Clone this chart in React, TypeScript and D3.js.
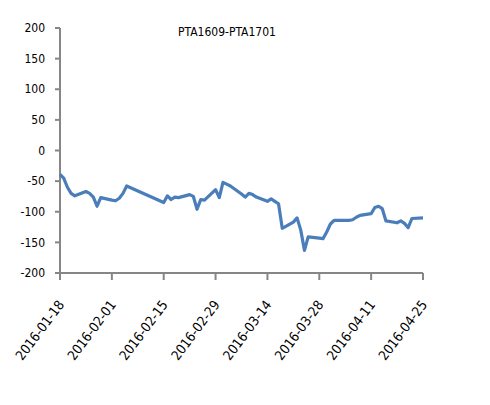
import React, { useEffect, useRef } from "react";
import * as d3 from "d3";

const title = "PTA1609-PTA1701";

const dates: string[] = [
  "2016-01-18", "2016-01-19", "2016-01-20", "2016-01-21", "2016-01-22",
  "2016-01-25", "2016-01-26", "2016-01-27", "2016-01-28", "2016-01-29",
  "2016-02-01", "2016-02-02", "2016-02-03", "2016-02-04", "2016-02-05",
  "2016-02-15", "2016-02-16", "2016-02-17", "2016-02-18", "2016-02-19",
  "2016-02-22", "2016-02-23", "2016-02-24", "2016-02-25", "2016-02-26",
  "2016-02-29", "2016-03-01", "2016-03-02", "2016-03-03", "2016-03-04",
  "2016-03-07", "2016-03-08", "2016-03-09", "2016-03-10", "2016-03-11",
  "2016-03-14", "2016-03-15", "2016-03-16", "2016-03-17", "2016-03-18",
  "2016-03-21", "2016-03-22", "2016-03-23", "2016-03-24", "2016-03-25",
  "2016-03-28", "2016-03-29", "2016-03-30", "2016-03-31", "2016-04-01",
  "2016-04-05", "2016-04-06", "2016-04-07", "2016-04-08",
  "2016-04-11", "2016-04-12", "2016-04-13", "2016-04-14", "2016-04-15",
  "2016-04-18", "2016-04-19", "2016-04-20", "2016-04-21", "2016-04-22",
  "2016-04-25",
];

const spread: number[] = [
  -39, -45, -60, -70, -74,
  -67, -70, -76, -91, -77,
  -81, -82, -78, -70, -58,
  -85, -74, -80, -76, -77,
  -72, -75, -96, -80, -81,
  -64, -77, -52, -55, -58,
  -71, -76, -70, -72, -76,
  -83, -79, -83, -87, -127,
  -117, -110, -130, -163, -141,
  -143, -144, -133, -120, -114,
  -114, -113, -109, -106,
  -103, -93, -91, -95, -115,
  -118, -115, -119, -126, -111,
  -110,
];

const yTicks: number[] = [-200, -150, -100, -50, 0, 50, 100, 150, 200];
const xTicks: string[] = [
  "2016-01-18", "2016-02-01", "2016-02-15", "2016-02-29",
  "2016-03-14", "2016-03-28", "2016-04-11", "2016-04-25",
];

const font = "'DejaVu Sans', sans-serif";
const axisColor = "#868686";
const lineColor = "#4a7ebb";

const App: React.FC = () => {
  const svgRef = useRef<SVGSVGElement | null>(null);

  useEffect(() => {
    const width = 490;
    const height = 405;
    const parse = d3.utcParse("%Y-%m-%d");
    const data = dates.map((d, i) => ({ date: parse(d) as Date, value: spread[i] }));

    const x = d3
      .scaleUtc()
      .domain([parse(xTicks[0]) as Date, parse(xTicks[xTicks.length - 1]) as Date])
      .range([60, 423]);

    const y = d3.scaleLinear().domain([-200, 200]).range([273, 28]);

    const svg = d3
      .select(svgRef.current)
      .attr("width", width)
      .attr("height", height)
      .attr("viewBox", `0 0 ${width} ${height}`);

    svg.selectAll("*").remove();

    svg.append("rect").attr("width", width).attr("height", height).attr("fill", "#fff");

    // y axis
    const yAxis = svg.append("g").attr("transform", `translate(${x.range()[0]},0)`);
    yAxis
      .append("line")
      .attr("y1", y(-200))
      .attr("y2", y(200))
      .attr("stroke", axisColor)
      .attr("stroke-width", 2);
    yAxis
      .selectAll("line.tick")
      .data(yTicks)
      .join("line")
      .attr("class", "tick")
      .attr("x1", -5)
      .attr("x2", 0)
      .attr("y1", (d) => y(d))
      .attr("y2", (d) => y(d))
      .attr("stroke", axisColor)
      .attr("stroke-width", 2);
    yAxis
      .selectAll("text")
      .data(yTicks)
      .join("text")
      .attr("x", -15)
      .attr("y", (d) => y(d))
      .attr("dy", "0.35em")
      .attr("text-anchor", "end")
      .attr("font-family", font)
      .attr("font-stretch", "condensed")
      .attr("font-size", 12)
      .attr("fill", "#000")
      .text((d) => d);

    // x axis
    const xAxis = svg.append("g").attr("transform", `translate(0,${y(-200)})`);
    xAxis
      .append("line")
      .attr("x1", x.range()[0])
      .attr("x2", x.range()[1])
      .attr("stroke", axisColor)
      .attr("stroke-width", 2);
    xAxis
      .selectAll("line.tick")
      .data(xTicks)
      .join("line")
      .attr("class", "tick")
      .attr("x1", (d) => x(parse(d) as Date))
      .attr("x2", (d) => x(parse(d) as Date))
      .attr("y1", 0)
      .attr("y2", 7)
      .attr("stroke", axisColor)
      .attr("stroke-width", 2);
    xAxis
      .selectAll("text")
      .data(xTicks)
      .join("text")
      .attr(
        "transform",
        (d) => `translate(${x(parse(d) as Date) + 1},${29}) rotate(-53)`
      )
      .attr("text-anchor", "end")
      .attr("dy", "0.35em")
      .attr("font-family", font)
      .attr("font-stretch", "condensed")
      .attr("font-size", 13.5)
      .attr("fill", "#000")
      .text((d) => d);

    // series
    const line = d3
      .line<{ date: Date; value: number }>()
      .x((d) => x(d.date))
      .y((d) => y(d.value));

    svg
      .append("path")
      .datum(data)
      .attr("fill", "none")
      .attr("stroke", lineColor)
      .attr("stroke-width", 3.2)
      .attr("stroke-linejoin", "round")
      .attr("d", line);

    // title
    svg
      .append("text")
      .attr("x", 227)
      .attr("y", 36)
      .attr("text-anchor", "middle")
      .attr("font-family", font)
      .attr("font-stretch", "condensed")
      .attr("font-size", 12)
      .attr("fill", "#000")
      .text(title);
  }, []);

  return <svg ref={svgRef} style={{ position: "absolute", left: 0, top: 0 }}></svg>;
};

export default App;
